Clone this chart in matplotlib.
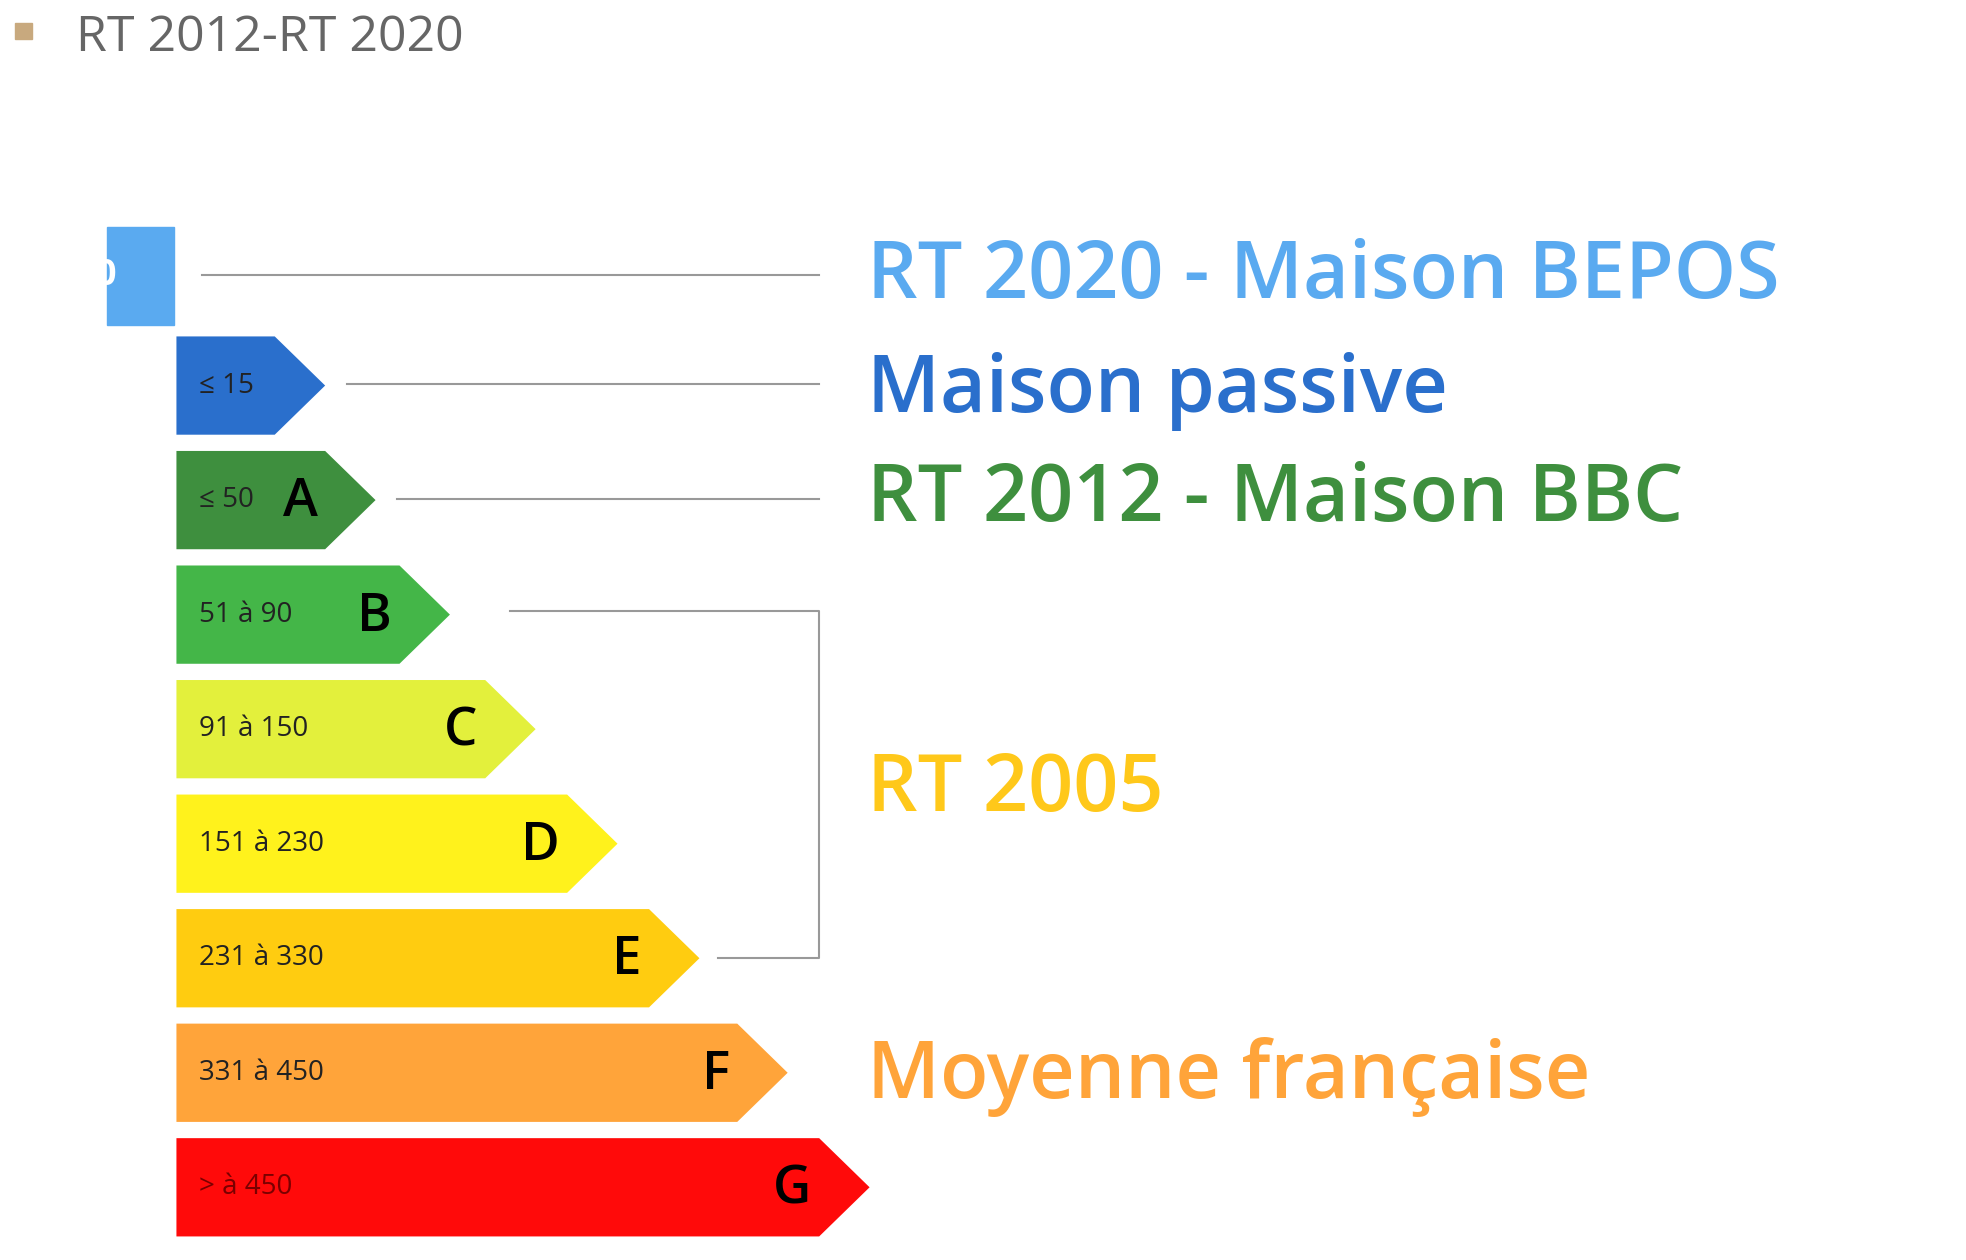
import matplotlib.pyplot as plt
from matplotlib.patches import Polygon, Rectangle

# energy classes, drawn bottom-up on a 1560x1000 canvas
ranges = ["≤ 15", "≤ 50", "51 à 90", "91 à 150", "151 à 230", "231 à 330", "331 à 450", "> à 450"]
letters = ["", "A", "B", "C", "D", "E", "F", "G"]
lengths = [118, 158, 217, 285, 350, 415, 485, 550]
colors = ["#2a6fcc", "#3e8f3e", "#44b648", "#e3f03c", "#fff21c", "#ffcc10", "#ffa43a", "#ff0a0a"]

labels = ["RT 2020 - Maison BEPOS", "Maison passive", "RT 2012 - Maison BBC", "RT 2005", "Moyenne française"]
label_colors = ["#5aaaf0", "#2a6fcc", "#3e8f3e", "#ffc81a", "#ffa43a"]
label_y = [220, 310, 397, 627, 855]

FONT = "Open Sans"

fig = plt.figure(figsize=(19.66, 12.6), dpi=100)
ax = fig.add_axes([0, 0, 1, 1])
ax.set_xlim(0, 1560)
ax.set_ylim(1000, 0)
ax.axis("off")

# header
ax.add_patch(Rectangle((12, 18), 13, 13, color="#c8a97e"))
ax.text(60, 30, "RT 2012-RT 2020", fontsize=36, color="#666666", va="center", family=FONT)

# zero box
ax.add_patch(Rectangle((85, 180), 53, 78, color="#5aaaf0"))
ax.text(84, 219, "0", fontsize=26, color="white", fontweight="bold", va="center",
        ha="center", family=FONT, clip_on=True)

x0, h, tip = 140, 78, 40
for i, (r, l, w, c) in enumerate(zip(ranges, letters, lengths, colors)):
    top = 267 + i * 90.9
    body = x0 + w - tip
    ax.add_patch(Polygon([(x0, top), (body, top), (x0 + w, top + h / 2),
                          (body, top + h), (x0, top + h)], closed=True, color=c, lw=0))
    ax.text(x0 + 18, top + h / 2, r, fontsize=20, color="#222222" if i != 7 else "#7a0000",
            va="center", family=FONT)
    if l:
        ax.text(body - 6, top + h / 2 + 2, l, fontsize=38, fontweight="semibold",
                va="center", ha="right", color="black", family=FONT)

# connector lines
lc = "#999999"
ax.plot([160, 650], [218, 218], color=lc, lw=1.5)
ax.plot([275, 650], [305, 305], color=lc, lw=1.5)
ax.plot([315, 650], [396, 396], color=lc, lw=1.5)
ax.plot([405, 650, 650, 570], [485, 485, 760, 760], color=lc, lw=1.5)

for t, c, y in zip(labels, label_colors, label_y):
    ax.text(688, y, t, fontsize=57, color=c, fontweight="semibold", va="center", family=FONT)

fig.savefig("out.png", dpi=100)
